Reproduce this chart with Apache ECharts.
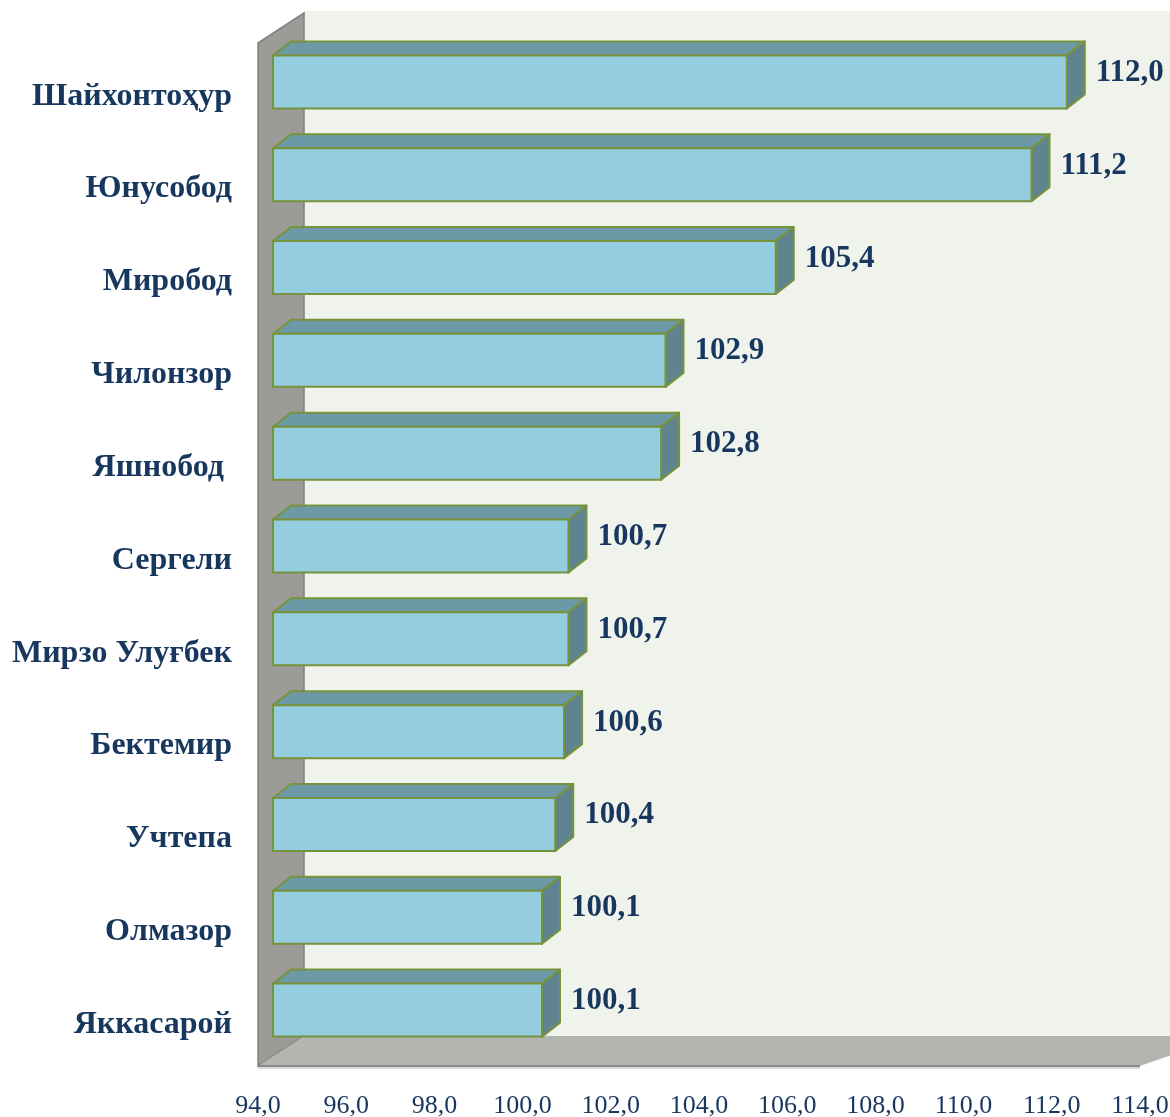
<!DOCTYPE html>
<html>
<head>
<meta charset="utf-8">
<script src="https://cdn.jsdelivr.net/npm/echarts@6/dist/echarts.min.js"></script>
<style>
html, body { margin: 0; padding: 0; background: #fff; }
#main { width: 1170px; height: 1117px; }
</style>
</head>
<body>
<div id="main"></div>
<script>
var districts = ['Шайхонтоҳур', 'Юнусобод', 'Миробод', 'Чилонзор', 'Яшнобод ', 'Сергели',
    'Мирзо Улуғбек', 'Бектемир', 'Учтепа', 'Олмазор', 'Яккасарой'];
var values = [112.0, 111.2, 105.4, 102.9, 102.8, 100.7, 100.7, 100.6, 100.4, 100.1, 100.1];
var axisMin = 94, axisMax = 114, axisStep = 2;

var myChart = echarts.init(document.getElementById('main'));
var navy = '#17375e';
var font = '"Liberation Serif", "Times New Roman", "DejaVu Serif", serif';

// 3d offsets (pixels): bar front, bar depth, wall depth
var barOff = [15, -14.5], barDepth = [18, -14], wallDepth = [46, -30];
var barHalf = 26.5;

function fmt(v) { return v.toFixed(1).replace('.', ','); }

function frameItem(params, api) {
    var cs = params.coordSys;
    var L = cs.x, B = cs.y + cs.height - 5, T = cs.y - 7, R = cs.x + cs.width;
    var dx = wallDepth[0], dy = wallDepth[1];
    return {
        type: 'group',
        children: [
            { type: 'rect', shape: { x: L + dx, y: T + dy - 2, width: 2000, height: B - T + 4 },
              style: { fill: '#eff3eb' } },
            { type: 'polygon', shape: { points: [[L, B], [L, T], [L + dx, T + dy], [L + dx, B + dy]] },
              style: { fill: '#9b9b97', stroke: '#808080', lineWidth: 1.5 } },
            { type: 'polygon', shape: { points: [[L, B], [L + dx, B + dy], [R + dx + 40, B + dy], [R, B]] },
              style: { fill: '#b3b5af' } },
            { type: 'line', shape: { x1: L, y1: B, x2: R, y2: B },
              style: { stroke: '#8a8a88', lineWidth: 2 } },
            { type: 'line', shape: { x1: L, y1: B + 2, x2: R, y2: B + 2 },
              style: { stroke: '#d8d8d6', lineWidth: 2 } }
        ]
    };
}

function barItem(params, api) {
    var idx = api.value(0), v = api.value(1);
    var p0 = api.coord([axisMin, idx]);
    var p1 = api.coord([v, idx]);
    var x0 = p0[0] + barOff[0], x1 = p1[0] + barOff[0];
    var yc = p0[1] + barOff[1];
    var yt = yc - barHalf, yb = yc + barHalf;
    var dx = barDepth[0], dy = barDepth[1];
    var edge = '#77933c';
    return {
        type: 'group',
        children: [
            { type: 'polygon', shape: { points: [[x0, yt], [x1, yt], [x1 + dx, yt + dy], [x0 + dx, yt + dy]] },
              style: { fill: '#6d98a6', stroke: edge, lineWidth: 2, lineJoin: 'round' } },
            { type: 'polygon', shape: { points: [[x1, yt], [x1 + dx, yt + dy], [x1 + dx, yb + dy], [x1, yb]] },
              style: { fill: '#5f838f', stroke: edge, lineWidth: 2, lineJoin: 'round' } },
            { type: 'rect', shape: { x: x0, y: yt, width: x1 - x0, height: yb - yt },
              style: { fill: '#93cddf', stroke: edge, lineWidth: 2 } },
            { type: 'text', x: x1 + dx + 11, y: yc - 9,
              style: { text: fmt(v), fill: navy, font: 'bold 31px ' + font,
                       textAlign: 'left', textVerticalAlign: 'middle' } }
        ]
    };
}

var barData = values.map(function (v, i) { return [i, v]; });

myChart.setOption({
    backgroundColor: '#ffffff',
    animation: false,
    grid: { left: 258, right: 30, top: 50, bottom: 46, outerBoundsMode: 'none' },
    xAxis: {
        type: 'value', min: axisMin, max: axisMax, interval: axisStep,
        axisLine: { show: false }, axisTick: { show: false }, splitLine: { show: false },
        axisLabel: { margin: 22, color: navy, fontSize: 26, fontFamily: font, formatter: fmt }
    },
    yAxis: {
        type: 'category', data: districts, inverse: true,
        axisLine: { show: false }, axisTick: { show: false }, splitLine: { show: false },
        axisLabel: { margin: 26, color: navy, fontSize: 32, fontWeight: 'bold', fontFamily: font }
    },
    series: [
        { type: 'custom', name: 'frame', renderItem: frameItem, data: [[0]], silent: true, z: 1 },
        { type: 'custom', name: 'bars', renderItem: barItem, data: barData,
          encode: { x: 1, y: 0 }, z: 2 }
    ]
});
</script>
</body>
</html>
